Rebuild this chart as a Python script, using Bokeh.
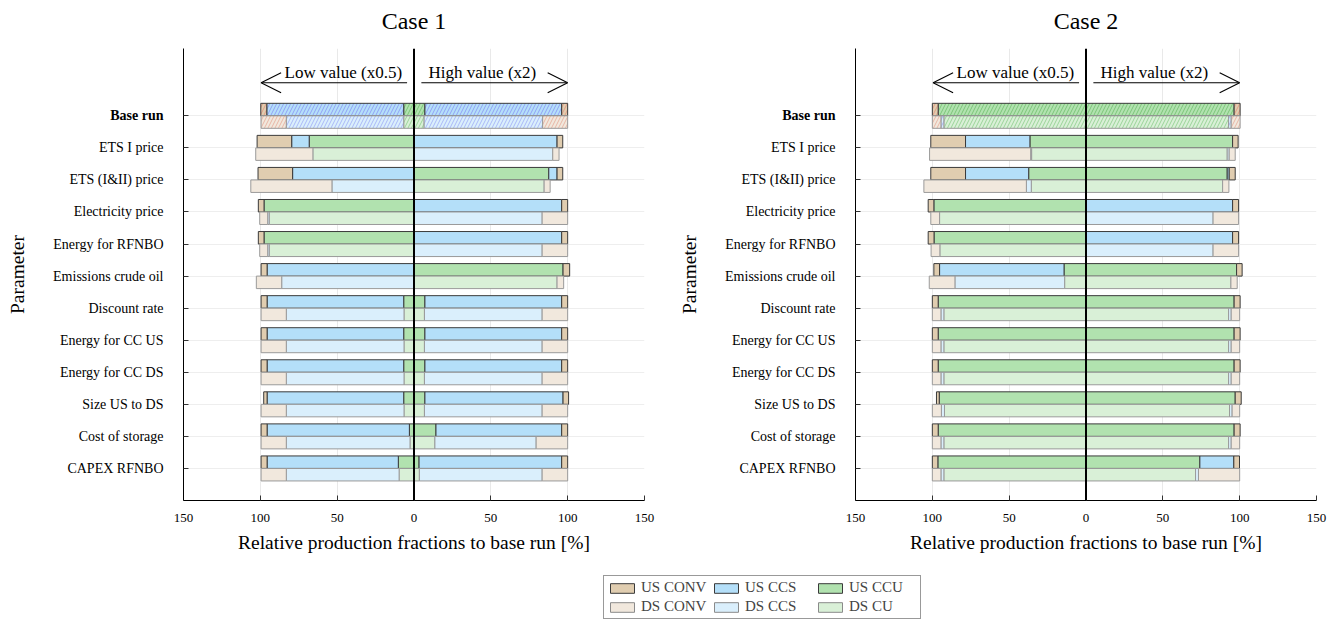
import numpy as np
from bokeh.plotting import figure
from bokeh.models import (ColumnDataSource, Range1d, FixedTicker, CustomJSTickFormatter,
                          Span, Arrow, OpenHead, Label, Legend, LegendItem)
from bokeh.layouts import column, row
from bokeh.embed import file_html
from bokeh.resources import INLINE
from bokeh.core.properties import value, field

FONT = "'Liberation Serif', serif"

params = ["Base run", "ETS I price", "ETS (I&II) price", "Electricity price",
          "Energy for RFNBO", "Emissions crude oil", "Discount rate",
          "Energy for CC US", "Energy for CC DS", "Size US to DS",
          "Cost of storage", "CAPEX RFNBO"]
x_ticks = [-150, -100, -50, 0, 50, 100, 150]

# ---------------- Case 1 (values in % of base run) ----------------
c1_us_low_ccu  = [6.7, 68.2, 0.0, 97.6, 97.6, 0.0, 6.7, 6.7, 6.7, 6.7, 3.0, 10.2]
c1_us_low_ccs  = [89.1, 11.4, 79.0, 0.0, 0.0, 95.6, 88.9, 88.9, 88.9, 88.9, 92.6, 85.4]
c1_us_low_conv = [3.9, 22.5, 22.5, 3.7, 3.7, 3.9, 3.9, 3.9, 3.9, 2.2, 3.9, 3.9]
c1_us_high_ccu  = [7.1, 0.0, 87.7, 0.0, 0.0, 97.0, 7.1, 7.1, 7.1, 7.1, 14.3, 3.3]
c1_us_high_ccs  = [89.0, 93.1, 5.4, 96.1, 96.1, 0.0, 89.0, 89.0, 89.0, 89.9, 81.8, 92.8]
c1_us_high_conv = [3.9, 3.7, 3.7, 3.9, 3.9, 4.3, 3.9, 3.9, 3.9, 3.6, 3.9, 3.9]
c1_ds_low_ccu  = [6.7, 65.8, 0.0, 94.2, 94.2, 0.0, 6.5, 6.5, 6.5, 6.5, 2.6, 9.7]
c1_ds_low_ccs  = [76.4, 0.0, 53.4, 1.0, 1.0, 86.1, 76.6, 76.6, 76.6, 76.6, 80.5, 73.4]
c1_ds_low_conv = [16.4, 37.2, 52.8, 5.2, 5.2, 16.5, 16.4, 16.4, 16.4, 16.4, 16.4, 16.4]
c1_ds_high_ccu  = [6.6, 0.0, 84.7, 0.0, 0.0, 93.1, 6.8, 6.8, 6.8, 6.8, 13.6, 3.5]
c1_ds_high_ccs  = [77.1, 90.3, 0.0, 83.4, 83.4, 0.0, 76.6, 76.6, 76.6, 76.6, 65.9, 79.9]
c1_ds_high_conv = [16.3, 4.1, 3.9, 16.6, 16.6, 4.3, 16.6, 16.6, 16.6, 16.6, 20.5, 16.6]

# ---------------- Case 2 ----------------
c2_us_low_ccu  = [96.2, 36.5, 37.3, 99.0, 98.9, 14.3, 96.2, 96.2, 96.2, 95.5, 96.2, 96.4]
c2_us_low_ccs  = [0.0, 41.9, 41.1, 0.0, 0.0, 81.0, 0.0, 0.0, 0.0, 0.0, 0.0, 0.0]
c2_us_low_conv = [3.8, 22.6, 22.6, 3.7, 3.8, 3.7, 3.8, 3.8, 3.8, 1.8, 3.8, 3.6]
c2_us_high_ccu  = [96.4, 95.4, 91.9, 0.0, 0.0, 98.0, 96.4, 96.4, 96.4, 97.1, 96.4, 74.1]
c2_us_high_ccs  = [0.0, 0.0, 1.3, 95.4, 95.4, 0.0, 0.0, 0.0, 0.0, 0.0, 0.0, 22.1]
c2_us_high_conv = [3.9, 3.6, 3.9, 3.9, 3.9, 3.6, 3.9, 3.9, 3.9, 3.9, 3.9, 3.7]
c2_ds_low_ccu  = [92.5, 35.4, 35.6, 95.3, 95.1, 13.9, 92.5, 92.5, 92.5, 92.1, 92.5, 92.5]
c2_ds_low_ccs  = [1.9, 0.6, 3.2, 0.0, 0.0, 71.4, 1.9, 1.9, 1.9, 2.0, 1.9, 1.9]
c2_ds_low_conv = [5.6, 65.8, 66.7, 5.7, 5.7, 16.7, 5.6, 5.6, 5.6, 5.9, 5.6, 5.6]
c2_ds_high_ccu  = [92.8, 91.9, 88.9, 0.0, 0.0, 94.3, 92.8, 92.8, 92.8, 93.4, 92.8, 71.3]
c2_ds_high_ccs  = [1.7, 1.3, 0.0, 82.7, 82.7, 0.0, 1.7, 1.7, 1.7, 1.7, 1.7, 1.9]
c2_ds_high_conv = [5.8, 3.9, 4.1, 16.6, 16.6, 4.1, 5.5, 5.5, 5.5, 4.9, 5.5, 26.8]

case1 = {("US", "low"): (c1_us_low_ccu, c1_us_low_ccs, c1_us_low_conv),
         ("US", "high"): (c1_us_high_ccu, c1_us_high_ccs, c1_us_high_conv),
         ("DS", "low"): (c1_ds_low_ccu, c1_ds_low_ccs, c1_ds_low_conv),
         ("DS", "high"): (c1_ds_high_ccu, c1_ds_high_ccs, c1_ds_high_conv)}
case2 = {("US", "low"): (c2_us_low_ccu, c2_us_low_ccs, c2_us_low_conv),
         ("US", "high"): (c2_us_high_ccu, c2_us_high_ccs, c2_us_high_conv),
         ("DS", "low"): (c2_ds_low_ccu, c2_ds_low_ccs, c2_ds_low_conv),
         ("DS", "high"): (c2_ds_high_ccu, c2_ds_high_ccs, c2_ds_high_conv)}

comps = ["CCU", "CCS", "CONV"]   # stacking order outward from zero
fill = {("US", "CONV"): "#E0CDB0", ("DS", "CONV"): "#F1E8DD",
        ("US", "CCS"): "#B4DFF9", ("DS", "CCS"): "#DAEFFC",
        ("US", "CCU"): "#B1E2AF", ("DS", "CCU"): "#D9F0D7"}
hatch_col = {"CONV": "#E39580", "CCS": "#8B95F5", "CCU": "#72C070"}
line_col = {"US": "#3a3a3a", "DS": "#9a9a9a"}
legend_names = {("US", "CONV"): "US CONV", ("DS", "CONV"): "DS CONV",
                ("US", "CCS"): "US CCS", ("DS", "CCS"): "DS CCS",
                ("US", "CCU"): "US CCU", ("DS", "CCU"): "DS CU"}

BAR_H = 0.39
N = len(params)


def make_case(title, data, left_border, right_border):
    p = figure(width=669, height=560, x_range=Range1d(-150, 150), y_range=Range1d(0, 14.1),
               output_backend="svg", toolbar_location=None, title=title,
               min_border_left=left_border, min_border_right=right_border,
               min_border_top=48, min_border_bottom=60)
    p.outline_line_color = None
    p.title.align = "center"
    p.title.text_font = FONT
    p.title.text_font_size = "24px"
    p.title.text_font_style = "normal"
    p.title.text_color = "black"
    p.title.standoff = 0

    for unit in ["US", "DS"]:
        for ci, comp in enumerate(comps):
            rows = {"y": [], "left": [], "right": [], "hatch": []}
            for side, sign in [("low", -1), ("high", 1)]:
                arrs = data[(unit, side)]
                for i in range(N):
                    start = sum(arrs[k][i] for k in range(ci))
                    width = arrs[ci][i]
                    if width <= 0:
                        continue
                    a, b = sign * start, sign * (start + width)
                    pos = N - i
                    rows["y"].append(pos + BAR_H / 2 if unit == "US" else pos - BAR_H / 2)
                    rows["left"].append(min(a, b))
                    rows["right"].append(max(a, b))
                    rows["hatch"].append("/" if i == 0 else " ")
            src = ColumnDataSource(rows)
            p.hbar(y="y", left="left", right="right", height=BAR_H, source=src,
                   fill_color=fill[(unit, comp)], line_color=line_col[unit], line_width=1,
                   hatch_pattern=field("hatch"), hatch_color=hatch_col[comp],
                   hatch_alpha=0.85 if unit == "US" else 0.6, hatch_scale=7, hatch_weight=1)

    p.add_layout(Span(location=0, dimension="height", line_color="black", line_width=2))

    # axes
    p.xaxis.ticker = FixedTicker(ticks=x_ticks)
    p.xaxis.formatter = CustomJSTickFormatter(code="return Math.abs(tick).toString();")
    p.yaxis.ticker = FixedTicker(ticks=list(range(1, N + 1)))
    overrides = {N - i: params[i] for i in range(N)}
    overrides[N] = ""
    p.yaxis.major_label_overrides = overrides
    for ax in [p.xaxis[0], p.yaxis[0]]:
        ax.major_tick_in = 5
        ax.major_tick_out = 0
        ax.minor_tick_line_color = None
        ax.axis_line_color = "black"
        ax.axis_line_width = 1
        ax.major_tick_line_color = "#333333"
        ax.major_label_text_font = FONT
        ax.major_label_text_color = "black"
        ax.axis_label_text_font = FONT
        ax.axis_label_text_font_size = "19.5px"
        ax.axis_label_text_font_style = "normal"
        ax.axis_label_text_color = "black"
    p.xaxis.major_label_text_font_size = "13px"
    p.yaxis.major_label_text_font_size = "14px"
    p.xaxis.axis_label = "Relative production fractions to base run [%]"
    p.xaxis.major_label_standoff = 13
    p.xaxis.axis_label_standoff = 7
    p.yaxis.axis_label = "Parameter"
    p.yaxis.major_label_standoff = 20
    p.yaxis.axis_label_standoff = 22

    p.xgrid.ticker = FixedTicker(ticks=x_ticks)
    p.xgrid.grid_line_color = "#e9e9e9"
    p.ygrid.grid_line_color = "#eeeeee"

    # bold "Base run" tick label; placed in a side panel so it is not clipped by the frame
    p.add_layout(Label(x=left_border - 20, y=N, x_units="canvas", y_units="data",
                       text=params[0], text_align="right",
                       text_baseline="middle", text_font=FONT, text_font_size="14px",
                       text_font_style="bold", text_color="black"), "above")

    # low / high annotations
    ay = 13.03
    p.add_layout(Arrow(end=OpenHead(size=20, line_width=1.1, line_color="black"),
                       x_start=-4.5, y_start=ay, x_end=-99.5, y_end=ay,
                       line_width=1.1, line_color="black"))
    p.add_layout(Arrow(end=OpenHead(size=20, line_width=1.1, line_color="black"),
                       x_start=4.8, y_start=ay, x_end=100, y_end=ay,
                       line_width=1.1, line_color="black"))
    p.text(x=[-46, 44.5], y=[ay + 0.02, ay + 0.02], text=["Low value (x0.5)", "High value (x2)"],
           text_align="center", text_baseline="bottom", text_font=value(FONT),
           text_font_size="17px", text_color="black")
    return p


p1 = make_case("Case 1", case1, 183, 25)
p2 = make_case("Case 2", case2, 186, 22)

lf = figure(width=1338, height=60, output_backend="svg", toolbar_location=None,
            x_range=Range1d(0, 1), y_range=Range1d(0, 1), min_border=0,
            x_axis_location=None, y_axis_location=None)
lf.grid.visible = False
lf.outline_line_color = None
items = []
for unit, comp in [("US", "CONV"), ("US", "CCS"), ("US", "CCU"),
                   ("DS", "CONV"), ("DS", "CCS"), ("DS", "CCU")]:
    r = lf.hbar(y=[5], left=[5], right=[6], height=0.1, fill_color=fill[(unit, comp)],
                line_color=line_col[unit] if unit == "US" else "#8a8a8a", line_width=1)
    items.append(LegendItem(label=legend_names[(unit, comp)], renderers=[r]))
legend = Legend(items=items, location=(603, 1), orientation="horizontal", ncols=3,
                glyph_width=30, glyph_height=12, label_height=13, label_width=68,
                label_standoff=4, spacing=2, padding=3, margin=0,
                border_line_color="#333333", border_line_width=1,
                label_text_font=FONT, label_text_font_size="15px",
                label_text_line_height=1.0, background_fill_color="white")
lf.add_layout(legend)

layout = column(row(p1, p2), lf)
open("out.html", "w").write(file_html(layout, INLINE))
